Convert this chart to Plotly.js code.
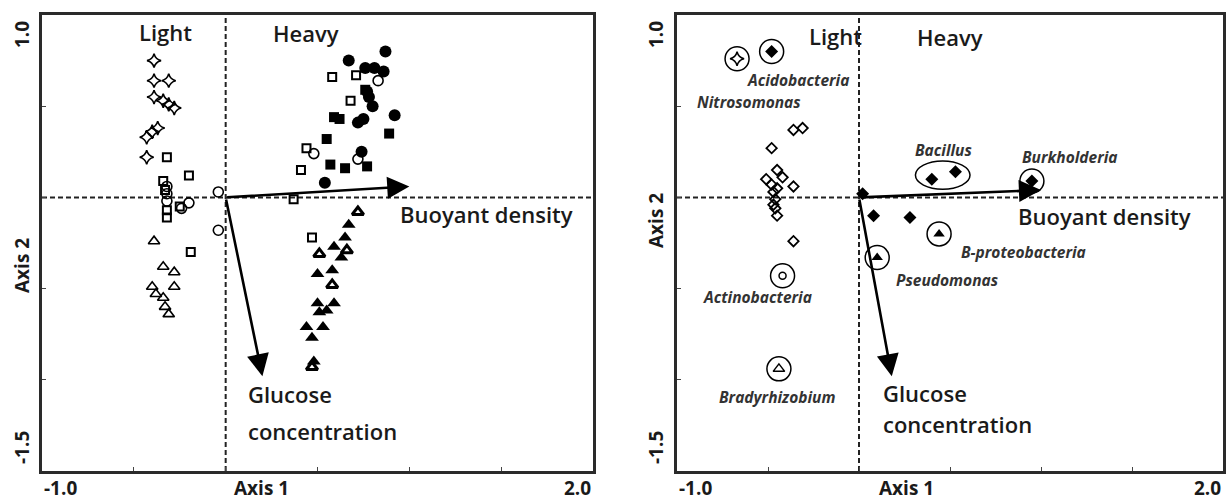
<!DOCTYPE html>
<html>
<head>
<meta charset="utf-8">
<script src="https://cdn.plot.ly/plotly-3.0.1.min.js"></script>
<style>html,body{margin:0;padding:0;background:#fff;}#plot{width:1228px;height:502px;}</style>
</head>
<body>
<div id="plot"></div>
<script>
// ---------------- DATA ----------------
const xTickLabels = ['-1.0', '2.0'];
const xTickValues = [-1, 2];
const yTickLabels = ['1.0', '-1.5'];
const yTickValues = [1, -1.5];
const axisNames = ['Axis 1', 'Axis 2'];
const fractionNames = ['Light', 'Heavy'];
const vectorNames = ['Buoyant density', 'Glucose', 'concentration'];

// Left panel (samples)
const lightStarX = [-0.39, -0.39, -0.31, -0.39, -0.34, -0.31, -0.28, -0.37, -0.40, -0.43, -0.43];
const lightStarY = [0.75, 0.64, 0.64, 0.55, 0.53, 0.51, 0.49, 0.38, 0.36, 0.33, 0.22];
const lightSquareX = [-0.32, -0.20, -0.34, -0.33, -0.32, -0.32, -0.25, -0.19];
const lightSquareY = [0.22, 0.12, 0.09, 0.04, -0.07, -0.11, -0.05, -0.30];
const lightCircleX = [-0.32, -0.32, -0.32, -0.20, -0.24, -0.04, -0.04];
const lightCircleY = [0.06, 0.02, -0.02, -0.03, -0.06, 0.03, -0.18];
const lightTriangleX = [-0.39, -0.34, -0.28, -0.28, -0.40, -0.38, -0.34, -0.33, -0.31];
const lightTriangleY = [-0.24, -0.38, -0.41, -0.49, -0.49, -0.53, -0.55, -0.60, -0.64];

const heavyCircleX = [0.87, 0.67, 0.76, 0.81, 0.86, 0.77, 0.78, 0.80, 0.92, 0.72, 0.75, 0.74, 0.54];
const heavyCircleY = [0.80, 0.75, 0.71, 0.71, 0.69, 0.58, 0.55, 0.50, 0.45, 0.41, 0.43, 0.25, 0.08];
const heavyOpenCircleX = [0.83, 0.48, 0.72];
const heavyOpenCircleY = [0.64, 0.24, 0.21];
const heavySquareX = [0.59, 0.62, 0.55, 0.89, 0.57, 0.65, 0.77, 0.76];
const heavySquareY = [0.44, 0.43, 0.32, 0.35, 0.18, 0.16, 0.17, 0.59];
const heavyOpenSquareX = [0.58, 0.71, 0.68, 0.44, 0.41, 0.37, 0.47];
const heavyOpenSquareY = [0.66, 0.67, 0.53, 0.27, 0.15, -0.01, -0.22];
const heavyTriangleX = [0.67, 0.65, 0.59, 0.63, 0.58, 0.50, 0.50, 0.59, 0.51, 0.55, 0.44, 0.53, 0.47, 0.48];
const heavyTriangleY = [-0.15, -0.22, -0.27, -0.33, -0.40, -0.42, -0.58, -0.58, -0.63, -0.62, -0.71, -0.71, -0.77, -0.90];
const heavyOpenTriangleX = [0.72, 0.66, 0.51, 0.58, 0.47];
const heavyOpenTriangleY = [-0.08, -0.29, -0.31, -0.48, -0.93];

const leftBuoyant = [1.0, 0.06];
const leftGlucose = [0.20, -0.98];

// Right panel (taxa)
const taxaOpenDiamondX = [-0.36, -0.31, -0.48, -0.45, -0.51, -0.42, -0.36, -0.48, -0.45, -0.47, -0.46, -0.47, -0.46, -0.45, -0.36];
const taxaOpenDiamondY = [0.37, 0.38, 0.27, 0.15, 0.10, 0.11, 0.06, 0.07, 0.05, 0.03, -0.01, -0.04, -0.06, -0.10, -0.24];
const taxaFilledDiamondX = [0.02, 0.08, 0.28];
const taxaFilledDiamondY = [0.02, -0.10, -0.11];
const bacillusX = [0.40, 0.53];
const bacillusY = [0.10, 0.14];
const bacillusName = 'Bacillus';
const taxaNames = ['Acidobacteria', 'Nitrosomonas', 'Actinobacteria', 'Bradyrhizobium', 'Pseudomonas', 'B-proteobacteria', 'Burkholderia'];
const taxaX = [-0.48, -0.67, -0.42, -0.44, 0.10, 0.44, 0.95];
const taxaY = [0.80, 0.76, -0.43, -0.94, -0.33, -0.20, 0.09];

const rightBuoyant = [1.0, 0.04];
const rightGlucose = [0.18, -0.98];

// ---------------- STYLE ----------------
const INK = '#000';
const FONT = 'Open Sans, DejaVu Sans, sans-serif';
const taxaSymbol = {
  'Acidobacteria': 'diamond', 'Nitrosomonas': 'star-diamond-open', 'Actinobacteria': 'circle-open',
  'Bradyrhizobium': 'triangle-up-open', 'Pseudomonas': 'triangle-up', 'B-proteobacteria': 'triangle-up',
  'Burkholderia': 'diamond'
};
const taxaLabelShift = {
  'Acidobacteria': [26, -29], 'Nitrosomonas': [12, -43], 'Actinobacteria': [-25, -21],
  'Bradyrhizobium': [-2, -28], 'Pseudomonas': [70, -22], 'B-proteobacteria': [84, -18],
  'Burkholderia': [38, 24]
};

function pts(x, y, sym, size, lw, ax) {
  return {
    type: 'scatter', mode: 'markers', x: x, y: y, xaxis: ax[0], yaxis: ax[1],
    marker: { symbol: sym, size: size, color: INK, opacity: 1, line: { color: INK, width: lw } },
    hoverinfo: 'skip', showlegend: false
  };
}
const L = ['x', 'y'], R = ['x2', 'y2'];
const isOpen = n => taxaSymbol[n].indexOf('open') >= 0;
const traces = [
  pts(lightStarX, lightStarY, 'star-diamond-open', 10, 1.6, L),
  pts(lightSquareX, lightSquareY, 'square-open', 8, 2, L),
  pts(lightCircleX, lightCircleY, 'circle-open', 10, 1.6, L),
  pts(lightTriangleX, lightTriangleY, 'triangle-up-open', 10, 1.6, L),
  pts(heavyOpenSquareX, heavyOpenSquareY, 'square-open', 8, 2, L),
  pts(heavyOpenCircleX, heavyOpenCircleY, 'circle-open', 10, 1.6, L),
  pts(heavyCircleX, heavyCircleY, 'circle', 12, 0, L),
  pts(heavySquareX, heavySquareY, 'square', 10, 0, L),
  pts(heavyTriangleX, heavyTriangleY, 'triangle-up', 12, 0, L),
  pts(heavyOpenTriangleX, heavyOpenTriangleY, 'triangle-up-open', 10, 3, L),
  pts(taxaOpenDiamondX, taxaOpenDiamondY, 'diamond-open', 8, 1.8, R),
  pts(taxaFilledDiamondX, taxaFilledDiamondY, 'diamond', 10, 0, R),
  pts(bacillusX, bacillusY, 'diamond', 10, 0, R),
  {
    type: 'scatter', mode: 'markers', x: taxaX, y: taxaY, xaxis: 'x2', yaxis: 'y2',
    marker: { symbol: taxaNames.map(n => taxaSymbol[n]),
      size: taxaNames.map(n => taxaSymbol[n] === 'circle-open' ? 7 : 10),
      color: INK, opacity: 1, line: { color: INK, width: taxaNames.map(n => isOpen(n) ? 1.5 : 0) } },
    hoverinfo: 'skip', showlegend: false
  },
  {
    type: 'scatter', mode: 'markers', x: taxaX, y: taxaY, xaxis: 'x2', yaxis: 'y2',
    marker: { symbol: 'circle-open', size: 24, color: INK, line: { color: INK, width: 1.5 } },
    hoverinfo: 'skip', showlegend: false
  }
];

const xDomL = [42 / 1228, 593 / 1228], xDomR = [677 / 1228, 1223 / 1228];
const yDom = [1 - 471 / 502, 1 - 15 / 502];
function axis(dom, range, anchor) {
  return {
    domain: dom, range: range, anchor: anchor, showline: true, mirror: true, linewidth: 3, linecolor: '#2a2a2a',
    ticks: 'inside', ticklen: 4, tickwidth: 1, tickcolor: '#444', dtick: 0.5, tick0: 0,
    showticklabels: false, showgrid: false, zeroline: false, fixedrange: true
  };
}

const shapes = [];
[['x', 'y'], ['x2', 'y2']].forEach(a => {
  shapes.push({ type: 'line', xref: a[0], yref: a[1], x0: -1, x1: 2, y0: 0, y1: 0, layer: 'below',
    line: { color: '#222', width: 2, dash: '5px,3px' } });
  shapes.push({ type: 'line', xref: a[0], yref: a[1], x0: 0, x1: 0, y0: -1.5, y1: 1, layer: 'below',
    line: { color: '#222', width: 2, dash: '5px,3px' } });
});
const bcx = (bacillusX[0] + bacillusX[1]) / 2, bcy = (bacillusY[0] + bacillusY[1]) / 2;
shapes.push({ type: 'circle', xref: 'x2', yref: 'y2', x0: bcx - 0.155, x1: bcx + 0.145, y0: bcy - 0.075, y1: bcy + 0.08,
  line: { color: INK, width: 1.5 } });

const big = { family: FONT, size: 22, color: '#1a1a1a', weight: 600 };
const tick = { family: FONT, size: 19, color: '#1a1a1a', weight: 700 };
const ital = { family: FONT, size: 15.5, color: '#333', style: 'italic', weight: 700 };
const ann = [];
function arrow(xr, yr, v) {
  ann.push({ xref: xr, yref: yr, axref: xr, ayref: yr, x: v[0], y: v[1], ax: 0, ay: 0, text: ' ', font: { size: 1 },
    showarrow: true, arrowhead: 2, arrowsize: 1.7, arrowwidth: 2.6, arrowcolor: INK, standoff: 0, startstandoff: 0 });
}
arrow('x', 'y', leftBuoyant); arrow('x', 'y', leftGlucose);
arrow('x2', 'y2', rightBuoyant); arrow('x2', 'y2', rightGlucose);

// panel texts
const panels = [
  { xr: 'x', yr: 'y', ylabX: 22, axis2Y: 266, axis1X: 261, light: [-0.33, 0.905], heavy: [0.44, 0.90],
    bd: [0.94, -0.093], gl: [0.11, -1.08], gl2: [0.11, -1.28] },
  { xr: 'x2', yr: 'y2', ylabX: 656, axis2Y: 221, axis1X: 906, light: [-0.13, 0.885], heavy: [0.50, 0.88],
    bd: [0.86, -0.104], gl: [0.12, -1.07], gl2: [0.12, -1.245] }
];
const BOT = 1 - 488 / 502;
panels.forEach(p => {
  ann.push({ xref: p.xr, yref: 'paper', x: xTickValues[0], y: BOT, text: xTickLabels[0], xanchor: 'left', yanchor: 'middle', showarrow: false, font: tick });
  ann.push({ xref: p.xr, yref: 'paper', x: xTickValues[1], y: BOT, text: xTickLabels[1], xanchor: 'right', yanchor: 'middle', showarrow: false, font: tick });
  ann.push({ xref: 'paper', yref: 'paper', x: p.ylabX / 1228, y: 1 - 35 / 502, text: yTickLabels[0], textangle: -90, xanchor: 'center', yanchor: 'middle', showarrow: false, font: tick });
  ann.push({ xref: 'paper', yref: 'paper', x: p.ylabX / 1228, y: 1 - 448 / 502, text: yTickLabels[1], textangle: -90, xanchor: 'center', yanchor: 'middle', showarrow: false, font: tick });
  ann.push({ xref: 'paper', yref: 'paper', x: p.axis1X / 1228, y: BOT, text: axisNames[0], xanchor: 'center', yanchor: 'middle', showarrow: false, font: tick });
  ann.push({ xref: 'paper', yref: 'paper', x: p.ylabX / 1228, y: 1 - p.axis2Y / 502, text: axisNames[1], textangle: -90, xanchor: 'center', yanchor: 'middle', showarrow: false, font: tick });
  ann.push({ xref: p.xr, yref: p.yr, x: p.light[0], y: p.light[1], text: fractionNames[0], xanchor: 'center', yanchor: 'middle', showarrow: false, font: big });
  ann.push({ xref: p.xr, yref: p.yr, x: p.heavy[0], y: p.heavy[1], text: fractionNames[1], xanchor: 'center', yanchor: 'middle', showarrow: false, font: big });
  ann.push({ xref: p.xr, yref: p.yr, x: p.bd[0], y: p.bd[1], text: vectorNames[0], xanchor: 'left', yanchor: 'middle', showarrow: false, font: big });
  ann.push({ xref: p.xr, yref: p.yr, x: p.gl[0], y: p.gl[1], text: vectorNames[1], xanchor: 'left', yanchor: 'middle', showarrow: false, font: big });
  ann.push({ xref: p.xr, yref: p.yr, x: p.gl2[0], y: p.gl2[1], text: vectorNames[2], xanchor: 'left', yanchor: 'middle', showarrow: false, font: big });
});
taxaNames.forEach((n, i) => {
  ann.push({ xref: 'x2', yref: 'y2', x: taxaX[i], y: taxaY[i], text: n, xshift: taxaLabelShift[n][0], yshift: taxaLabelShift[n][1],
    xanchor: 'center', yanchor: 'middle', showarrow: false, font: ital });
});
ann.push({ xref: 'x2', yref: 'y2', x: bcx, y: bcy, text: bacillusName, xshift: 0, yshift: 26, xanchor: 'center', yanchor: 'middle', showarrow: false, font: ital });

const layout = {
  width: 1228, height: 502, margin: { l: 0, r: 0, t: 0, b: 0 }, paper_bgcolor: '#fff', plot_bgcolor: '#fff',
  showlegend: false,
  xaxis: axis(xDomL, [-1, 2], 'y'), yaxis: axis(yDom, [-1.5, 1], 'x'),
  xaxis2: axis(xDomR, [-1, 2], 'y2'), yaxis2: axis(yDom, [-1.5, 1], 'x2'),
  shapes: shapes, annotations: ann
};
Plotly.newPlot('plot', traces, layout, { staticPlot: true });
</script>
</body>
</html>
